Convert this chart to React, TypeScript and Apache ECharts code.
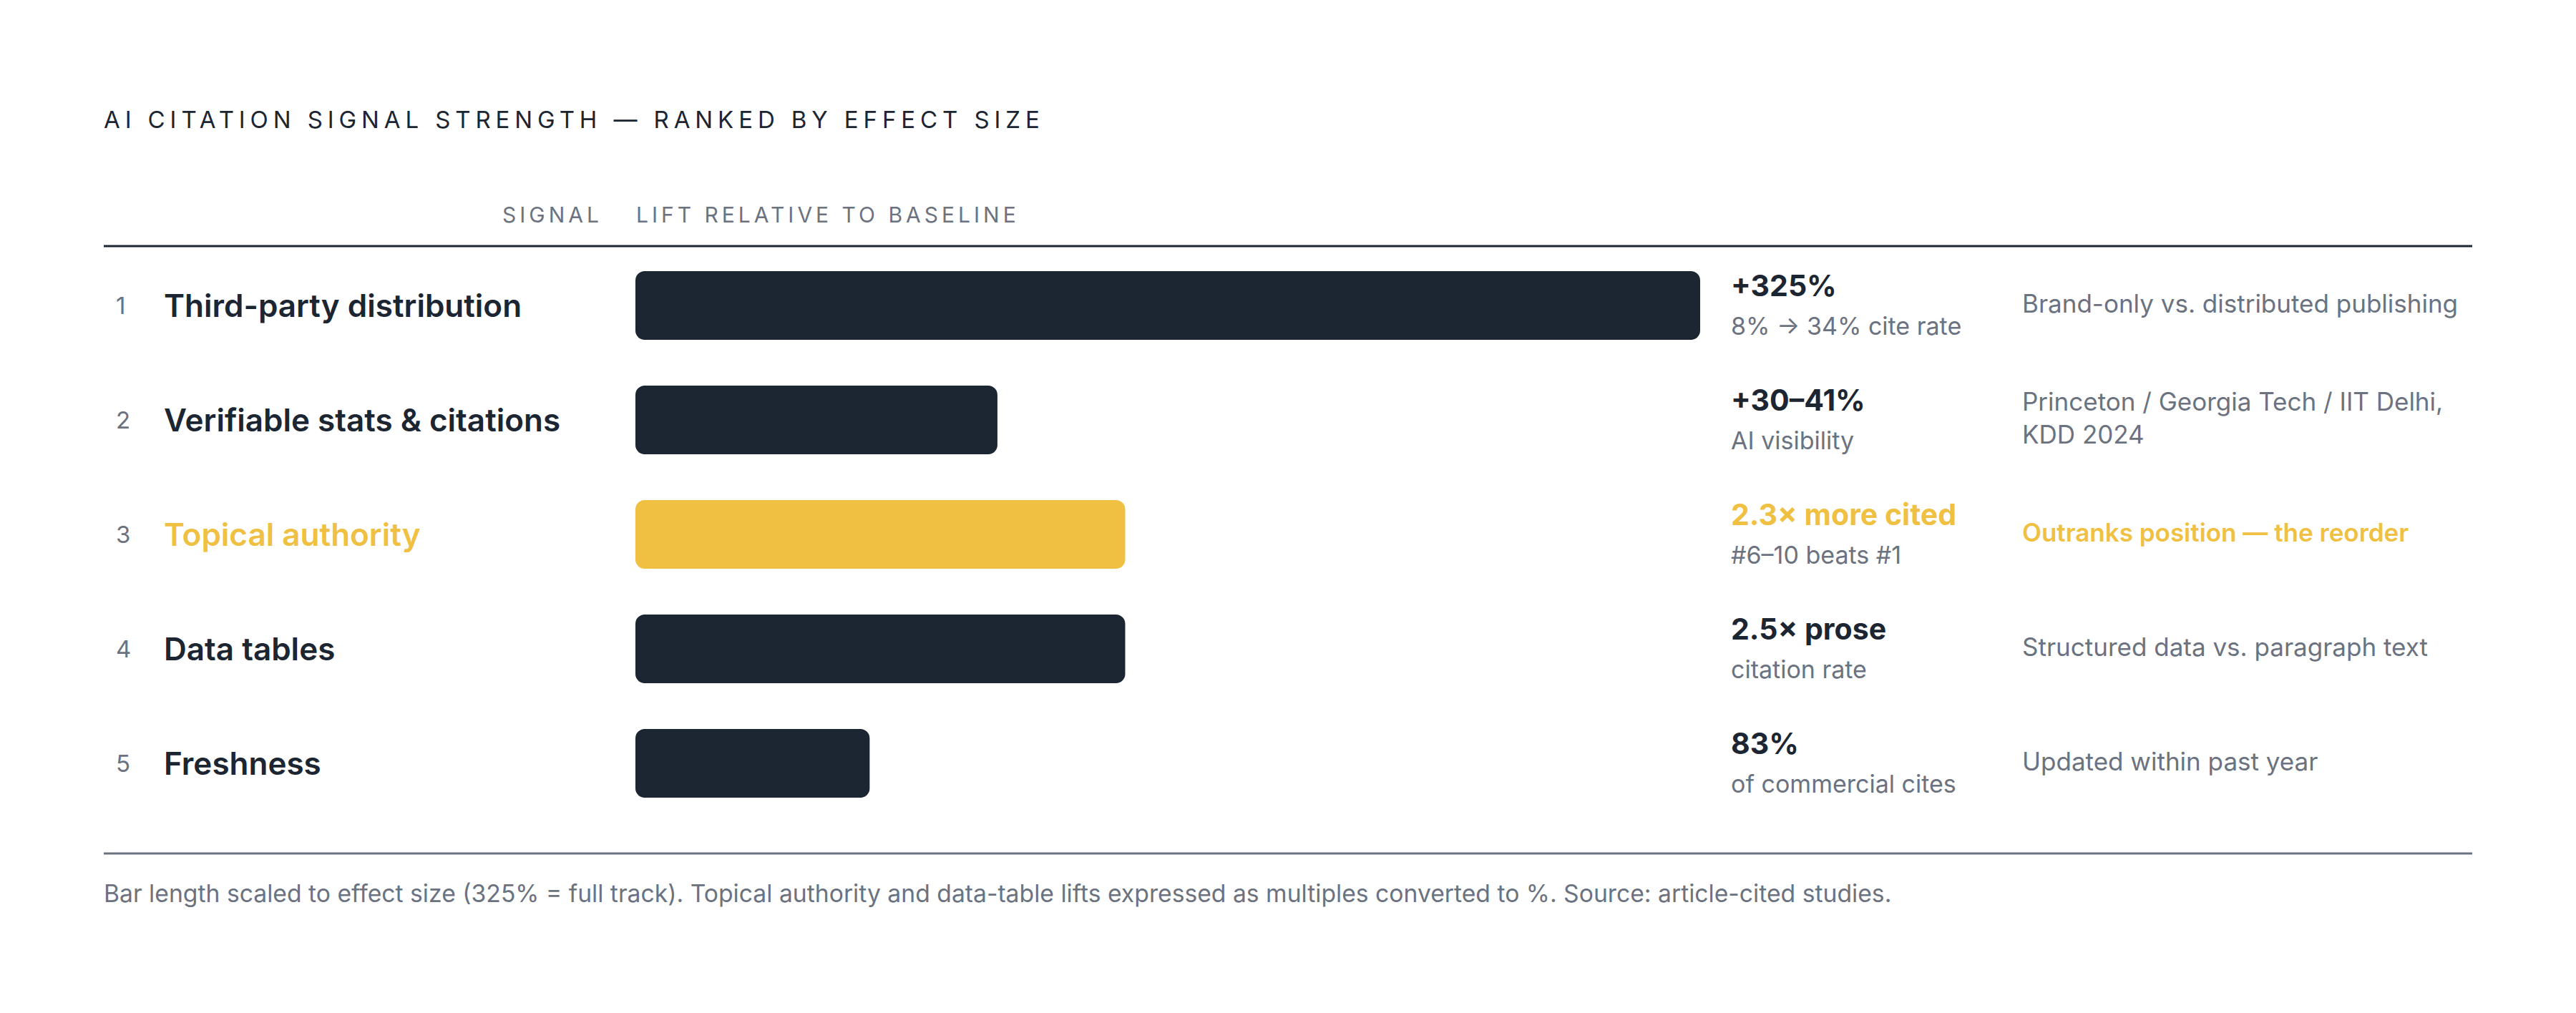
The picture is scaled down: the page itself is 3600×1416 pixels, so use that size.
import { useEffect, useRef } from "react";
import * as echarts from "echarts";

// rows, top to bottom (rank order)
const signals = [
  "Third-party distribution",
  "Verifiable stats & citations",
  "Topical authority",
  "Data tables",
  "Freshness",
];
// bar length as share of the full track (325% lift = 100)
const trackShare = [100, 34, 46, 46, 22];
const liftLabels = ["+325%", "+30–41%", "2.3× more cited", "2.5× prose", "83%"];
const liftNotes = [
  "8% → 34% cite rate",
  "AI visibility",
  "#6–10 beats #1",
  "citation rate",
  "of commercial cites",
];
const sources = [
  "Brand-only vs. distributed publishing",
  "Princeton / Georgia Tech / IIT Delhi,\nKDD 2024",
  "Outranks position — the reorder",
  "Structured data vs. paragraph text",
  "Updated within past year",
];
const highlightIndex = 2;

const TITLE = "AI CITATION SIGNAL STRENGTH — RANKED BY EFFECT SIZE";
const HEAD_SIGNAL = "SIGNAL";
const HEAD_LIFT = "LIFT RELATIVE TO BASELINE";
const FOOTNOTE =
  "Bar length scaled to effect size (325% = full track). Topical authority and data-table lifts expressed as multiples converted to %. Source: article-cited studies.";

const INK = "#1c2532";
const GREY = "#6b7280";
const GOLD = "#efc042";
const FONT = "Inter, 'DejaVu Sans', sans-serif";

function App() {
  const chartRef = useRef<HTMLDivElement>(null);

  useEffect(() => {
    document.body.style.margin = "0";
    if (!chartRef.current) return;
    const chart = echarts.init(chartRef.current, null, { renderer: "svg" });

    const option: echarts.EChartsOption = {
      animation: false,
      textStyle: { fontFamily: FONT },
      grid: { left: 888, right: 1224, top: 347, bottom: 269 },
      xAxis: { type: "value", min: 0, max: 100, show: false },
      yAxis: [
        {
          type: "category",
          data: signals,
          inverse: true,
          position: "left",
          axisLine: { show: false },
          axisTick: { show: false },
          axisLabel: {
            interval: 0,
            align: "left",
            margin: 726,
            formatter: (v: string, i: number) =>
              `{n|${i + 1}}{${i === highlightIndex ? "h" : "l"}|${v}}`,
            rich: {
              n: { width: 67, fontSize: 33, color: GREY, fontFamily: FONT },
              l: { fontSize: 44, fontWeight: 600, color: INK, fontFamily: FONT },
              h: { fontSize: 44, fontWeight: 600, color: GOLD, fontFamily: FONT },
            },
          },
        },
        {
          type: "category",
          data: liftLabels,
          inverse: true,
          position: "right",
          axisLine: { show: false },
          axisTick: { show: false },
          axisLabel: {
            interval: 0,
            align: "left",
            margin: 43,
            formatter: (v: string, i: number) =>
              `{${i === highlightIndex ? "vh" : "v"}|${v}}\n{s|${liftNotes[i]}}`,
            rich: {
              v: { fontSize: 41, fontWeight: 700, color: INK, lineHeight: 56, fontFamily: FONT },
              vh: { fontSize: 41, fontWeight: 700, color: GOLD, lineHeight: 56, fontFamily: FONT },
              s: { fontSize: 34, color: GREY, lineHeight: 56, fontFamily: FONT },
            },
          },
        },
        {
          type: "category",
          data: sources,
          inverse: true,
          position: "right",
          offset: 450,
          axisLine: { show: false },
          axisTick: { show: false },
          axisLabel: {
            interval: 0,
            align: "left",
            margin: 0,
            padding: [0, 0, 6, 0],
            formatter: (v: string, i: number) =>
              i === highlightIndex ? `{h|${v}}` : `{t|${v}}`,
            rich: {
              t: { fontSize: 35, color: GREY, lineHeight: 46, fontFamily: FONT },
              h: { fontSize: 35, fontWeight: 600, color: GOLD, lineHeight: 46, fontFamily: FONT },
            },
          },
        },
      ],
      series: [
        {
          type: "bar",
          yAxisIndex: 0,
          barWidth: 96,
          data: trackShare.map((v, i) => ({
            value: v,
            itemStyle: { color: i === highlightIndex ? GOLD : INK },
          })),
          itemStyle: { borderRadius: 13 },
        },
      ],
      graphic: [
        {
          type: "text",
          left: 145,
          top: 150,
          style: { text: TITLE, fontSize: 33, fill: INK, fontFamily: FONT },
        },
        {
          type: "text",
          x: 842,
          y: 300,
          style: {
            text: HEAD_SIGNAL,
            fontSize: 30,
            fill: GREY,
            fontFamily: FONT,
            align: "right",
            verticalAlign: "middle",
          },
        },
        {
          type: "text",
          x: 889,
          y: 300,
          style: {
            text: HEAD_LIFT,
            fontSize: 30,
            fill: GREY,
            fontFamily: FONT,
            verticalAlign: "middle",
          },
        },
        {
          type: "line",
          shape: { x1: 145, y1: 344, x2: 3455, y2: 344 },
          style: { stroke: INK, lineWidth: 3 },
        },
        {
          type: "line",
          shape: { x1: 145, y1: 1193, x2: 3455, y2: 1193 },
          style: { stroke: GREY, lineWidth: 3 },
        },
        {
          type: "text",
          x: 145,
          y: 1248,
          style: {
            text: FOOTNOTE,
            fontSize: 33.7,
            fill: GREY,
            fontFamily: FONT,
            verticalAlign: "middle",
          },
        },
      ],
    };

    chart.setOption(option);

    // tracked caps for the title and column heads
    const spacing: Record<string, string> = {
      [TITLE]: "6.9px",
      [HEAD_SIGNAL]: "5px",
      [HEAD_LIFT]: "5px",
    };
    chartRef.current.querySelectorAll("text").forEach((t) => {
      const s = spacing[t.textContent || ""];
      if (s) t.setAttribute("letter-spacing", s);
    });

    return () => {
      chart.dispose();
    };
  }, []);

  return <div ref={chartRef} style={{ width: 3600, height: 1416, background: "#fff" }} />;
}

export default App;
